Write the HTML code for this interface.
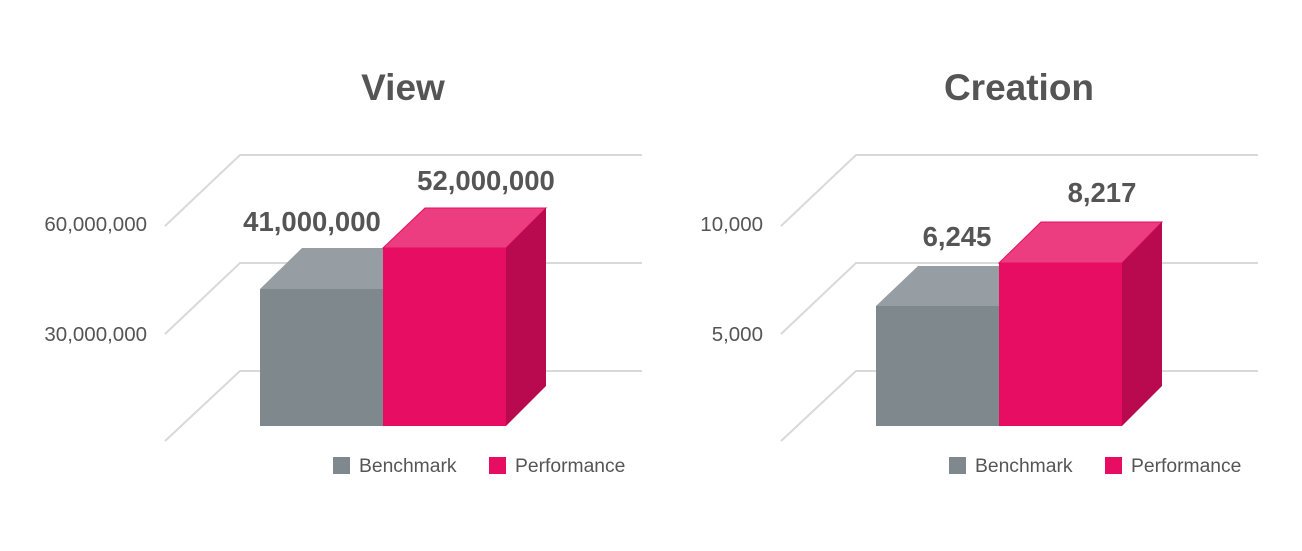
<!DOCTYPE html>
<html><head><style>body{margin:0;background:#fff}</style></head><body>
<svg width="1302" height="546" xmlns="http://www.w3.org/2000/svg" font-family="Liberation Sans, sans-serif">
<rect width="1302" height="546" fill="#fff"/>
<g>
<text x="403" y="100" font-size="37" font-weight="bold" fill="#555" text-anchor="middle">View</text>
<g stroke="#d9d9d9" stroke-width="2" fill="none">
<polyline points="165,226 240,155 642,155"/>
<polyline points="165,334 240,263 642,263"/>
<polyline points="165,441 240,371 642,371"/>
</g>
<text x="147" y="231" font-size="20.5" fill="#555" text-anchor="end">60,000,000</text>
<text x="147" y="341" font-size="20.5" fill="#555" text-anchor="end">30,000,000</text>
<polygon points="260,289 302,248 383,248 383,289" fill="#979ea3"/>
<rect x="260" y="289" width="123" height="137" fill="#7e888d"/>
<polygon points="383,248 425,208 546,208 506,248" fill="#ec3d80" stroke="#e60d63" stroke-width="1"/>
<polygon points="506,248 546,208 546,386 506,426" fill="#b90a4f"/>
<rect x="383" y="248" width="123" height="178" fill="#e60d63"/>
<text x="312" y="231" font-size="27.5" font-weight="bold" fill="#555" text-anchor="middle">41,000,000</text>
<text x="486" y="190" font-size="27.5" font-weight="bold" fill="#555" text-anchor="middle">52,000,000</text>
<rect x="333" y="457" width="17" height="17" fill="#7e888d"/>
<text x="359" y="472" font-size="19.3" fill="#555">Benchmark</text>
<rect x="489" y="457" width="17" height="17" fill="#e60d63"/>
<text x="515" y="472" font-size="19.3" fill="#555">Performance</text>
</g>
<g>
<text x="1019" y="100" font-size="37" font-weight="bold" fill="#555" text-anchor="middle">Creation</text>
<g stroke="#d9d9d9" stroke-width="2" fill="none">
<polyline points="781,226 856,155 1258,155"/>
<polyline points="781,334 856,263 1258,263"/>
<polyline points="781,441 856,371 1258,371"/>
</g>
<text x="763" y="231" font-size="20.5" fill="#555" text-anchor="end">10,000</text>
<text x="763" y="341" font-size="20.5" fill="#555" text-anchor="end">5,000</text>
<polygon points="876,306 918,266 999,266 999,306" fill="#979ea3"/>
<rect x="876" y="306" width="123" height="120" fill="#7e888d"/>
<polygon points="999,263 1041,222 1162,222 1122,263" fill="#ec3d80" stroke="#e60d63" stroke-width="1"/>
<polygon points="1122,263 1162,222 1162,386 1122,426" fill="#b90a4f"/>
<rect x="999" y="263" width="123" height="163" fill="#e60d63"/>
<text x="957" y="246" font-size="27.5" font-weight="bold" fill="#555" text-anchor="middle">6,245</text>
<text x="1102" y="202" font-size="27.5" font-weight="bold" fill="#555" text-anchor="middle">8,217</text>
<rect x="949" y="457" width="17" height="17" fill="#7e888d"/>
<text x="975" y="472" font-size="19.3" fill="#555">Benchmark</text>
<rect x="1105" y="457" width="17" height="17" fill="#e60d63"/>
<text x="1131" y="472" font-size="19.3" fill="#555">Performance</text>
</g>
</svg>
</body></html>
